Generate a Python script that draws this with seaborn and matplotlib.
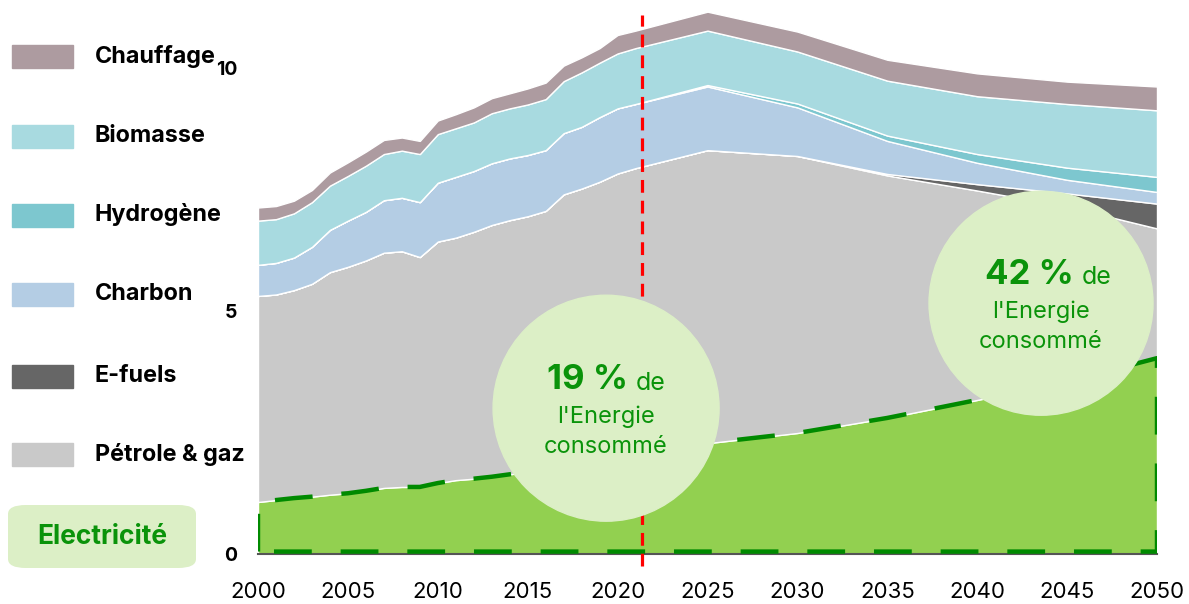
import seaborn as sns
import matplotlib.pyplot as plt
from matplotlib.patches import Ellipse, FancyBboxPatch, Rectangle

# data
years = [2000, 2001, 2002, 2003, 2004, 2005, 2006, 2007, 2008, 2009, 2010,
         2011, 2012, 2013, 2014, 2015, 2016, 2017, 2018, 2019, 2020, 2021,
         2025, 2030, 2035, 2040, 2045, 2050]
electricite = [1.07, 1.11, 1.15, 1.18, 1.22, 1.25, 1.30, 1.36, 1.38, 1.38, 1.46,
               1.52, 1.55, 1.59, 1.64, 1.69, 1.74, 1.80, 1.85, 1.90, 1.95, 2.00,
               2.28, 2.49, 2.80, 3.17, 3.55, 4.03]
petrole = [4.24, 4.23, 4.28, 4.38, 4.58, 4.66, 4.74, 4.84, 4.85, 4.73, 4.97,
           4.99, 5.08, 5.18, 5.23, 5.26, 5.32, 5.60, 5.67, 5.76, 5.88, 5.94,
           6.03, 5.70, 4.99, 4.31, 3.60, 2.67]
efuels = [0] * 22 + [0, 0, 0.03, 0.13, 0.27, 0.51]
charbon = [0.64, 0.65, 0.67, 0.76, 0.87, 0.95, 1.00, 1.08, 1.10, 1.13, 1.21,
           1.25, 1.25, 1.27, 1.27, 1.26, 1.25, 1.26, 1.27, 1.33, 1.34, 1.32,
           1.31, 1.00, 0.68, 0.44, 0.28, 0.24]
hydrogene = [0] * 22 + [0.03, 0.08, 0.11, 0.18, 0.25, 0.31]
biomasse = [0.91, 0.90, 0.91, 0.92, 0.91, 0.92, 0.95, 0.95, 0.97, 0.99, 1.00,
            1.00, 1.00, 1.03, 1.03, 1.04, 1.05, 1.07, 1.12, 1.12, 1.13, 1.15,
            1.12, 1.07, 1.13, 1.19, 1.31, 1.37]
chauffage = [0.27, 0.27, 0.26, 0.25, 0.27, 0.28, 0.29, 0.29, 0.27, 0.27, 0.28,
             0.29, 0.31, 0.31, 0.31, 0.33, 0.34, 0.32, 0.31, 0.30, 0.38, 0.36,
             0.39, 0.41, 0.43, 0.47, 0.46, 0.49]

labels = ["Electricité", "Pétrole & gaz", "E-fuels", "Charbon", "Hydrogène", "Biomasse", "Chauffage"]
colors = ["#92D050", "#C9C9C9", "#666666", "#B4CDE4", "#7DC7CF", "#A8DAE0", "#AD9BA0"]
green = "#0A930A"

sns.set_theme(style="white")
plt.rcParams['font.family'] = ['Inter', 'DejaVu Sans']

W, H = 1189, 604
fig = plt.figure(figsize=(W / 100, H / 100), dpi=100)
ax = fig.add_axes([258 / W, 1 - 554 / H, (1157 - 258) / W, 554 / H])

ax.stackplot(years, electricite, petrole, efuels, charbon, hydrogene, biomasse, chauffage,
             colors=colors, edgecolor="white", linewidth=1)

# dashed outline of the electricity area
ox = [2000] + years + [2050, 2000, 2000]
oy = [0.05] + electricite + [0.05, 0.05, 0.05]
ax.plot(ox, oy, color="#008A00", lw=3.2, dashes=(8.5, 6.5), solid_capstyle="butt", zorder=3)

# 2021 marker
ax.plot([2021.35, 2021.35], [-0.25, 11.1], color="red", lw=2.3, dashes=(4, 2.5),
        clip_on=False, zorder=4)

# bubbles
ax.add_patch(Ellipse((2019.36, 3.0), 226 / 17.98, 226 / 48.6, color="#DCEFC6", zorder=5))
ax.add_patch(Ellipse((2043.55, 5.16), 224 / 17.98, 224 / 48.6, color="#DCEFC6", zorder=5))


def fpos(x, y):
    return x / W, 1 - y / H


for cx, cy, dx, pct in [(606, 408, 0, "19 %"), (1041, 303, 11, "42 %")]:
    fig.text(*fpos(cx + 22 + dx, cy - 28), pct, ha="right", va="center", fontsize=25,
             fontweight="bold", color=green, zorder=6)
    fig.text(*fpos(cx + 30 + dx, cy - 25), "de", ha="left", va="center", fontsize=18,
             color=green, zorder=6)
    fig.text(*fpos(cx, cy + 9), "l'Energie", ha="center", va="center", fontsize=17,
             color=green, zorder=6)
    fig.text(*fpos(cx, cy + 39), "consommé", ha="center", va="center", fontsize=17,
             color=green, zorder=6)

ax.set_xlim(2000, 2050)
ax.set_ylim(0, 11.4)
ax.set_xticks(range(2000, 2051, 5))
ax.set_xticklabels([str(y) for y in range(2000, 2051, 5)], fontsize=16, color="black")
ax.set_yticks([0, 5, 10])
ax.set_yticklabels(["0", "5", "10"], fontsize=14, fontweight="bold", color="black")
ax.tick_params(axis="x", length=0, pad=20)
ax.tick_params(axis="y", length=0, pad=15)
for s in ["top", "right", "left"]:
    ax.spines[s].set_visible(False)
ax.spines["bottom"].set_color("#555555")
ax.spines["bottom"].set_linewidth(1.5)
ax.spines["bottom"].set_zorder(2)

# left legend
leg = [("Chauffage", colors[6], 56), ("Biomasse", colors[5], 136), ("Hydrogène", colors[4], 215),
       ("Charbon", colors[3], 294), ("E-fuels", colors[2], 376), ("Pétrole & gaz", colors[1], 454)]
for name, col, yc in leg:
    fig.patches.append(Rectangle(fpos(12, yc + 12), 61 / W, 23 / H, color=col,
                                 transform=fig.transFigure, figure=fig))
    fig.text(*fpos(95, yc), name, ha="left", va="center", fontsize=16.8, fontweight="bold",
             color="black")

fig.patches.append(FancyBboxPatch(fpos(8, 568), 188 / W, 63 / H,
                                  boxstyle="round,pad=0,rounding_size=0.015",
                                  transform=fig.transFigure, figure=fig,
                                  facecolor="#DCEFC6", edgecolor="none"))
fig.text(*fpos(102, 537), "Electricité", ha="center", va="center", fontsize=19,
         fontweight="bold", color=green)

fig.savefig("out.png", dpi=100)
